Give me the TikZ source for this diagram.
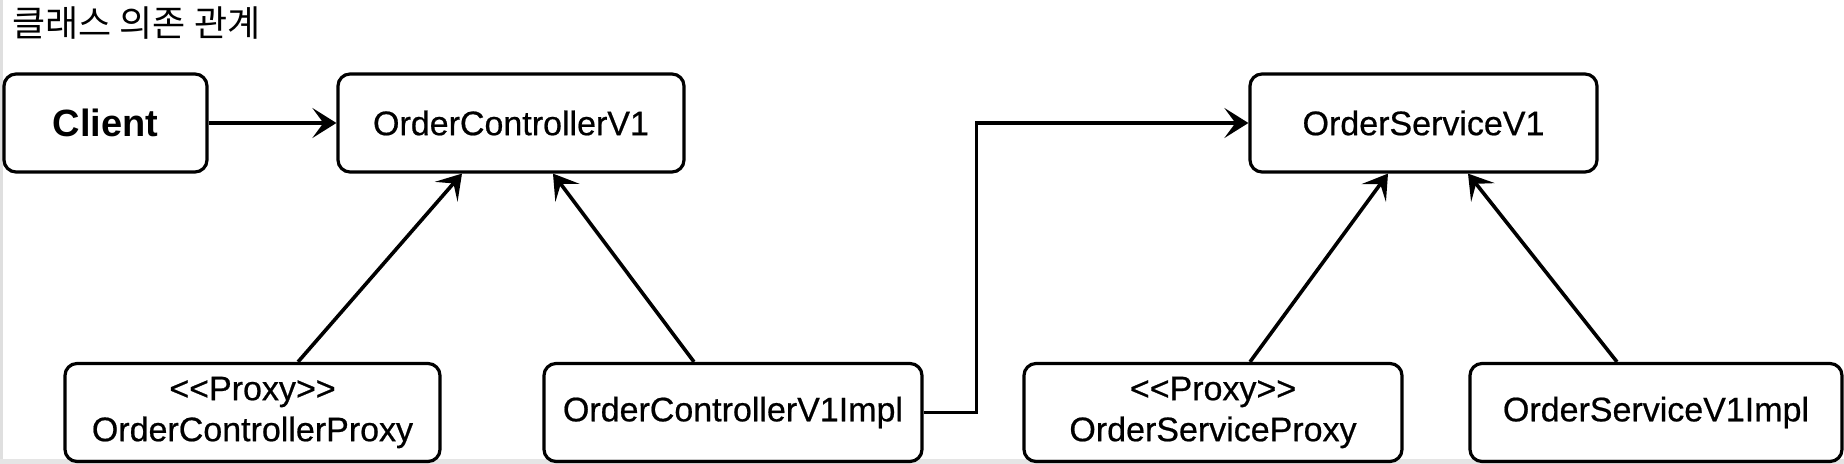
\documentclass[tikz,border=0pt]{standalone}
\usepackage{fontspec}
\setmainfont{Liberation Sans}
\newfontfamily\lblfont{Liberation Sans}[FakeBold=0.6]
\newfontfamily\kofont{Noto Sans CJK KR}
\usetikzlibrary{arrows.meta, positioning, calc}

\newcommand{\stereo}[1]{<\kern0pt<#1>\kern0pt>}

\tikzset{
  cls/.style={draw, line width=1.6pt, rounded corners=6pt, align=center,
    inner sep=0pt, minimum height=49pt, font=\lblfont\fontsize{17}{20.5}\selectfont},
  dep/.style={line width=1.8pt, -{Stealth[length=12pt,width=15pt,inset=5.5pt]}},
}

\begin{document}
\begin{tikzpicture}[x=0.5pt,y=-0.5pt]
    % Frame
    \useasboundingbox (0,0) rectangle (1844,464);
    \draw[gray!25, line width=1.5pt] (1,0) -- (1,464);
    \fill[gray!20] (0,459) rectangle (1844,464);

    % Title
    \node[anchor=north west, inner sep=0pt, font=\kofont\fontsize{18}{18}\selectfont] (title) at (12,6) {클래스 의존 관계};

    % Top row
    \node[cls, minimum width=101.5pt, font=\bfseries\fontsize{19}{19}\selectfont] (client) at (105.5,123) {Client};
    \node[cls, minimum width=173pt] (ctrl) at (511,123) {OrderControllerV1};
    \node[cls, minimum width=173.5pt] (svc) at (1423.5,123) {OrderServiceV1};

    % Bottom row
    \node[cls, minimum width=187.5pt] (ctrlproxy) at (252.5,412.5) {\stereo{Proxy}\\OrderControllerProxy};
    \node[cls, minimum width=189pt] (ctrlimpl) at (733,412.5) {OrderControllerV1Impl};
    \node[cls, minimum width=189pt] (svcproxy) at (1213,412.5) {\stereo{Proxy}\\OrderServiceProxy};
    \node[cls, minimum width=186pt] (svcimpl) at (1656,412.5) {OrderServiceV1Impl};

    % Dependencies
    \draw[dep] (client) -- (ctrl);
    \draw[dep] ([xshift=22.75pt]ctrlproxy.north) -- ([xshift=-24.5pt]ctrl.south);
    \draw[dep] ([xshift=-19.5pt]ctrlimpl.north) -- ([xshift=21pt]ctrl.south);
    \draw[dep] (ctrlimpl.east) -- ++(26.5pt,0) |- (svc.west);
    \draw[dep] ([xshift=18.5pt]svcproxy.north) -- ([xshift=-17.75pt]svc.south);
    \draw[dep] ([xshift=-19.5pt]svcimpl.north) -- ([xshift=22.25pt]svc.south);
\end{tikzpicture}
\end{document}
